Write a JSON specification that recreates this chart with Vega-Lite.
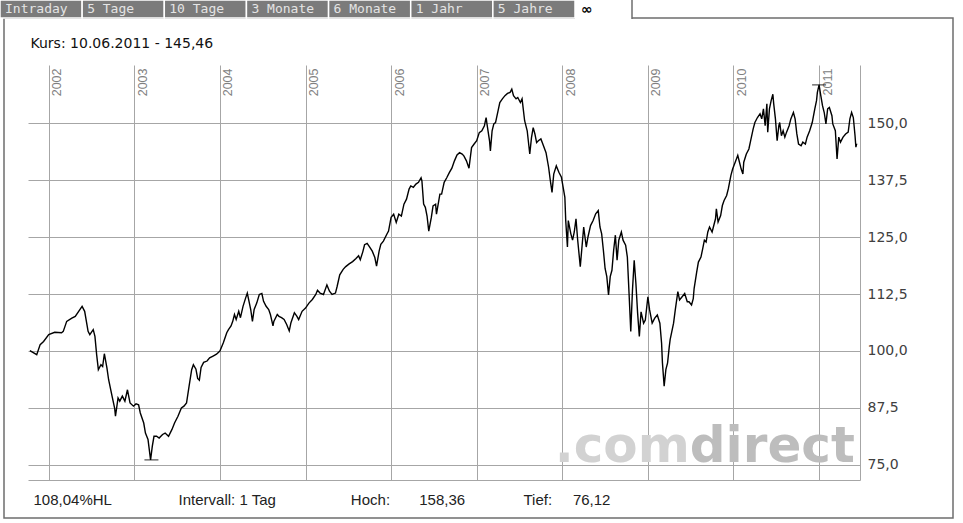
{
  "$schema": "https://vega.github.io/schema/vega-lite/v6.json",
  "width": 832,
  "height": 415,
  "autosize": {"type": "none"},
  "padding": {"left": 28, "top": 65, "right": 103, "bottom": 43},
  "background": "white",
  "config": {"view": {"stroke": null}},
  "resolve": {"scale": {"x": "independent", "y": "independent"}},
  "layer": [
    {
      "data": {"values": [{"part": "frame"}]},
      "mark": {"type": "rect", "fill": "transparent", "stroke": "#6e6e6e", "strokeWidth": 1.5},
      "encoding": {
        "x": {"datum": 0, "type": "quantitative", "scale": {"domain": [0, 1], "range": [-24, 925]}, "axis": null},
        "x2": {"datum": 1},
        "y": {"datum": 0, "type": "quantitative", "scale": {"domain": [0, 1], "range": [-47, 453]}, "axis": null},
        "y2": {"datum": 1}
      }
    },
    {
      "data": {"values": [{"tab": "Intraday"}, {"tab": "5 Tage"}, {"tab": "10 Tage"}, {"tab": "3 Monate"}, {"tab": "6 Monate"}, {"tab": "1 Jahr"}, {"tab": "5 Jahre"}]},
      "encoding": {
        "x": {"field": "tab", "type": "nominal", "sort": null, "scale": {"type": "band", "range": [-28, 547], "paddingInner": 0, "paddingOuter": 0}, "axis": null},
        "y": {"datum": 0, "type": "quantitative", "scale": {"domain": [0, 1], "range": [-65, -47]}, "axis": null}
      },
      "layer": [
        {"mark": {"type": "rect", "fill": "#7b7b7b", "stroke": "white", "strokeWidth": 1.5}, "encoding": {"y2": {"datum": 1}}},
        {"mark": {"type": "text", "font": "DejaVu Sans Mono", "fontSize": 13, "color": "#e4e4e4", "align": "left", "baseline": "middle", "dx": 5}, "encoding": {"text": {"field": "tab"}, "x": {"field": "tab", "type": "nominal", "bandPosition": 0}, "y": {"datum": 0.5, "type": "quantitative"}}}
      ]
    },
    {
      "data": {"values": [{"tab": "∞"}]},
      "encoding": {
        "x": {"field": "tab", "type": "nominal", "scale": {"type": "band", "range": [547, 604], "paddingInner": 0, "paddingOuter": 0}, "axis": null},
        "y": {"datum": 0, "type": "quantitative", "scale": {"domain": [0, 1], "range": [-65, -46]}, "axis": null}
      },
      "layer": [
        {"mark": {"type": "rect", "fill": "white"}, "encoding": {"y2": {"datum": 1}}},
        {"mark": {"type": "rule", "color": "#6e6e6e", "strokeWidth": 1.5}, "encoding": {"x": {"field": "tab", "type": "nominal", "bandPosition": 1}, "y2": {"datum": 1}}},
        {"mark": {"type": "text", "font": "DejaVu Sans", "fontWeight": "bold", "fontSize": 14, "align": "left", "baseline": "middle", "dx": 6, "color": "#000000"}, "encoding": {"text": {"field": "tab"}, "x": {"field": "tab", "type": "nominal", "bandPosition": 0}, "y": {"datum": 0.5, "type": "quantitative"}}}
      ]
    },
    {
      "layer": [
        {
          "data": {"values": [{"part": ".com"}]},
          "mark": {"type": "text", "align": "right", "baseline": "alphabetic", "font": "DejaVu Sans", "fontWeight": "bold", "fontSize": 50, "color": "#d2d2d2"},
          "encoding": {"text": {"field": "part"}, "x": {"datum": 2009.49, "type": "quantitative", "axis": null}, "y": {"datum": 75.66, "type": "quantitative", "axis": null}}
        },
        {
          "data": {"values": [{"part": "direct"}]},
          "mark": {"type": "text", "align": "left", "baseline": "alphabetic", "font": "DejaVu Sans", "fontWeight": "bold", "fontSize": 50, "color": "#bdbdbd"},
          "encoding": {"text": {"field": "part"}, "x": {"datum": 2009.49, "type": "quantitative", "axis": null}, "y": {"datum": 75.66, "type": "quantitative", "axis": null}}
        },
        {
          "data": {"values": [
            {"t": 2001.78, "v": 100.1}, {"t": 2001.86, "v": 99.2}, {"t": 2001.90, "v": 101.4}, {"t": 2001.94, "v": 102.1}, {"t": 2002.00, "v": 103.6}, {"t": 2002.07, "v": 104.1}, {"t": 2002.15, "v": 104.0}, {"t": 2002.17, "v": 104.3}, {"t": 2002.21, "v": 106.5}, {"t": 2002.27, "v": 107.2}, {"t": 2002.31, "v": 107.6}, {"t": 2002.35, "v": 108.7}, {"t": 2002.39, "v": 109.8}, {"t": 2002.42, "v": 108.7}, {"t": 2002.46, "v": 104.3}, {"t": 2002.48, "v": 103.6}, {"t": 2002.52, "v": 104.7}, {"t": 2002.54, "v": 103.2}, {"t": 2002.56, "v": 99.2}, {"t": 2002.58, "v": 95.9}, {"t": 2002.61, "v": 97.0}, {"t": 2002.63, "v": 96.6}, {"t": 2002.65, "v": 99.4}, {"t": 2002.68, "v": 96.3}, {"t": 2002.70, "v": 93.7}, {"t": 2002.74, "v": 90.1}, {"t": 2002.77, "v": 87.5}, {"t": 2002.78, "v": 85.7}, {"t": 2002.81, "v": 89.7}, {"t": 2002.83, "v": 89.0}, {"t": 2002.86, "v": 90.1}, {"t": 2002.89, "v": 89.0}, {"t": 2002.92, "v": 91.5}, {"t": 2002.95, "v": 88.6}, {"t": 2002.99, "v": 87.9}, {"t": 2003.02, "v": 88.4}, {"t": 2003.05, "v": 88.2}, {"t": 2003.07, "v": 86.4}, {"t": 2003.11, "v": 84.2}, {"t": 2003.13, "v": 82.0}, {"t": 2003.16, "v": 80.6}, {"t": 2003.19, "v": 76.12}, {"t": 2003.21, "v": 79.1}, {"t": 2003.23, "v": 81.3}, {"t": 2003.26, "v": 81.3}, {"t": 2003.29, "v": 80.9}, {"t": 2003.33, "v": 81.7}, {"t": 2003.36, "v": 82.0}, {"t": 2003.40, "v": 81.3}, {"t": 2003.44, "v": 82.8}, {"t": 2003.47, "v": 84.2}, {"t": 2003.51, "v": 85.7}, {"t": 2003.55, "v": 87.5}, {"t": 2003.58, "v": 87.9}, {"t": 2003.61, "v": 88.6}, {"t": 2003.64, "v": 92.3}, {"t": 2003.67, "v": 95.9}, {"t": 2003.69, "v": 97.0}, {"t": 2003.72, "v": 96.0}, {"t": 2003.74, "v": 94.0}, {"t": 2003.76, "v": 93.6}, {"t": 2003.78, "v": 96.4}, {"t": 2003.81, "v": 97.5}, {"t": 2003.85, "v": 97.8}, {"t": 2003.88, "v": 98.5}, {"t": 2003.92, "v": 98.9}, {"t": 2003.96, "v": 99.3}, {"t": 2004.00, "v": 100.0},
            {"t": 2004.04, "v": 101.8}, {"t": 2004.08, "v": 104.0}, {"t": 2004.10, "v": 104.7}, {"t": 2004.13, "v": 105.5}, {"t": 2004.15, "v": 106.5}, {"t": 2004.17, "v": 108.0}, {"t": 2004.19, "v": 106.9}, {"t": 2004.22, "v": 108.7}, {"t": 2004.24, "v": 107.3}, {"t": 2004.27, "v": 109.8}, {"t": 2004.30, "v": 111.6}, {"t": 2004.32, "v": 112.7}, {"t": 2004.34, "v": 110.9}, {"t": 2004.36, "v": 109.1}, {"t": 2004.38, "v": 106.5}, {"t": 2004.40, "v": 109.1}, {"t": 2004.43, "v": 110.5}, {"t": 2004.46, "v": 112.4}, {"t": 2004.49, "v": 112.6}, {"t": 2004.51, "v": 110.9}, {"t": 2004.54, "v": 109.8}, {"t": 2004.57, "v": 109.1}, {"t": 2004.59, "v": 108.0}, {"t": 2004.62, "v": 105.5}, {"t": 2004.63, "v": 106.5}, {"t": 2004.67, "v": 108.0}, {"t": 2004.69, "v": 107.6}, {"t": 2004.72, "v": 107.3}, {"t": 2004.75, "v": 106.9}, {"t": 2004.78, "v": 105.8}, {"t": 2004.81, "v": 104.4}, {"t": 2004.83, "v": 106.2}, {"t": 2004.87, "v": 108.4}, {"t": 2004.90, "v": 107.6}, {"t": 2004.92, "v": 106.9}, {"t": 2004.96, "v": 108.7}, {"t": 2005.00, "v": 109.4}, {"t": 2005.04, "v": 110.5}, {"t": 2005.08, "v": 111.3}, {"t": 2005.12, "v": 112.4}, {"t": 2005.14, "v": 113.3}, {"t": 2005.17, "v": 112.7}, {"t": 2005.21, "v": 112.4}, {"t": 2005.25, "v": 114.5}, {"t": 2005.28, "v": 113.1}, {"t": 2005.31, "v": 112.4}, {"t": 2005.35, "v": 112.7}, {"t": 2005.37, "v": 114.2}, {"t": 2005.40, "v": 116.7}, {"t": 2005.44, "v": 117.9}, {"t": 2005.47, "v": 118.5}, {"t": 2005.51, "v": 119.1}, {"t": 2005.55, "v": 119.6}, {"t": 2005.59, "v": 120.3}, {"t": 2005.62, "v": 120.9}, {"t": 2005.64, "v": 120.0}, {"t": 2005.67, "v": 121.8}, {"t": 2005.69, "v": 123.3}, {"t": 2005.72, "v": 123.6},
            {"t": 2005.75, "v": 122.8}, {"t": 2005.78, "v": 121.9}, {"t": 2005.81, "v": 120.5}, {"t": 2005.83, "v": 118.6}, {"t": 2005.86, "v": 121.9}, {"t": 2005.88, "v": 123.4}, {"t": 2005.91, "v": 124.1}, {"t": 2005.95, "v": 125.6}, {"t": 2005.97, "v": 126.3}, {"t": 2006.00, "v": 129.3}, {"t": 2006.03, "v": 130.0}, {"t": 2006.06, "v": 128.2}, {"t": 2006.09, "v": 130.0}, {"t": 2006.12, "v": 129.6}, {"t": 2006.15, "v": 132.2}, {"t": 2006.18, "v": 133.3}, {"t": 2006.21, "v": 135.5}, {"t": 2006.23, "v": 136.2}, {"t": 2006.26, "v": 135.9}, {"t": 2006.29, "v": 136.6}, {"t": 2006.32, "v": 137.0}, {"t": 2006.35, "v": 138.0}, {"t": 2006.36, "v": 137.3}, {"t": 2006.38, "v": 132.2}, {"t": 2006.40, "v": 131.5}, {"t": 2006.42, "v": 129.6}, {"t": 2006.44, "v": 126.3}, {"t": 2006.47, "v": 129.3}, {"t": 2006.49, "v": 131.8}, {"t": 2006.52, "v": 132.2}, {"t": 2006.53, "v": 130.0}, {"t": 2006.57, "v": 134.4}, {"t": 2006.59, "v": 134.4}, {"t": 2006.62, "v": 137.0}, {"t": 2006.65, "v": 138.0}, {"t": 2006.68, "v": 139.1}, {"t": 2006.71, "v": 140.1}, {"t": 2006.74, "v": 141.7}, {"t": 2006.77, "v": 143.0}, {"t": 2006.80, "v": 143.5}, {"t": 2006.83, "v": 143.2}, {"t": 2006.85, "v": 142.8}, {"t": 2006.88, "v": 141.7}, {"t": 2006.91, "v": 140.1}, {"t": 2006.94, "v": 144.6}, {"t": 2006.97, "v": 145.4}, {"t": 2007.00, "v": 146.1}, {"t": 2007.03, "v": 147.9}, {"t": 2007.06, "v": 148.3}, {"t": 2007.09, "v": 149.4}, {"t": 2007.11, "v": 151.2}, {"t": 2007.12, "v": 149.8}, {"t": 2007.15, "v": 146.1}, {"t": 2007.16, "v": 143.9}, {"t": 2007.18, "v": 148.3}, {"t": 2007.20, "v": 149.8}, {"t": 2007.22, "v": 150.1}, {"t": 2007.25, "v": 152.7}, {"t": 2007.27, "v": 154.5}, {"t": 2007.30, "v": 155.3}, {"t": 2007.33, "v": 156.0}, {"t": 2007.36, "v": 156.5}, {"t": 2007.39, "v": 156.7}, {"t": 2007.41, "v": 157.4}, {"t": 2007.43, "v": 156.0}, {"t": 2007.46, "v": 155.3}, {"t": 2007.48, "v": 155.6}, {"t": 2007.51, "v": 154.5}, {"t": 2007.53, "v": 155.3}, {"t": 2007.56, "v": 150.5}, {"t": 2007.59, "v": 148.3}, {"t": 2007.62, "v": 143.2}, {"t": 2007.64, "v": 146.8}, {"t": 2007.66, "v": 149.0}, {"t": 2007.68, "v": 147.6}, {"t": 2007.70, "v": 145.7}, {"t": 2007.72, "v": 146.1}, {"t": 2007.75, "v": 146.5}, {"t": 2007.78, "v": 145.0},
            {"t": 2007.81, "v": 143.5}, {"t": 2007.84, "v": 140.3}, {"t": 2007.86, "v": 137.4}, {"t": 2007.88, "v": 134.8}, {"t": 2007.90, "v": 138.8}, {"t": 2007.93, "v": 140.6}, {"t": 2007.96, "v": 139.2}, {"t": 2007.99, "v": 138.1}, {"t": 2008.01, "v": 135.9}, {"t": 2008.03, "v": 133.7}, {"t": 2008.04, "v": 128.6}, {"t": 2008.06, "v": 122.8}, {"t": 2008.07, "v": 128.6}, {"t": 2008.10, "v": 125.7}, {"t": 2008.12, "v": 124.3}, {"t": 2008.14, "v": 126.1}, {"t": 2008.16, "v": 129.0}, {"t": 2008.18, "v": 124.3}, {"t": 2008.21, "v": 118.5}, {"t": 2008.23, "v": 122.8}, {"t": 2008.25, "v": 127.2}, {"t": 2008.28, "v": 122.8}, {"t": 2008.30, "v": 125.0}, {"t": 2008.33, "v": 127.5}, {"t": 2008.36, "v": 128.6}, {"t": 2008.39, "v": 130.1}, {"t": 2008.42, "v": 130.8}, {"t": 2008.44, "v": 127.2}, {"t": 2008.46, "v": 125.7}, {"t": 2008.48, "v": 122.1}, {"t": 2008.50, "v": 118.1}, {"t": 2008.52, "v": 116.3}, {"t": 2008.54, "v": 112.3}, {"t": 2008.56, "v": 116.3}, {"t": 2008.58, "v": 117.7}, {"t": 2008.60, "v": 122.1}, {"t": 2008.62, "v": 125.4}, {"t": 2008.64, "v": 119.9}, {"t": 2008.66, "v": 124.3}, {"t": 2008.69, "v": 126.1}, {"t": 2008.71, "v": 124.3}, {"t": 2008.74, "v": 123.2}, {"t": 2008.76, "v": 120.6}, {"t": 2008.78, "v": 112.6}, {"t": 2008.80, "v": 104.3}, {"t": 2008.82, "v": 113.4}, {"t": 2008.84, "v": 119.9}, {"t": 2008.86, "v": 114.8}, {"t": 2008.88, "v": 108.3}, {"t": 2008.90, "v": 103.2}, {"t": 2008.92, "v": 108.6}, {"t": 2008.95, "v": 106.1}, {"t": 2008.97, "v": 106.8}, {"t": 2009.00, "v": 111.9}, {"t": 2009.02, "v": 109.0}, {"t": 2009.05, "v": 106.1}, {"t": 2009.08, "v": 107.2}, {"t": 2009.11, "v": 107.9}, {"t": 2009.14, "v": 106.1}, {"t": 2009.16, "v": 101.7}, {"t": 2009.17, "v": 97.4}, {"t": 2009.19, "v": 92.3}, {"t": 2009.21, "v": 95.9}, {"t": 2009.23, "v": 97.4}, {"t": 2009.25, "v": 101.0}, {"t": 2009.26, "v": 102.5}, {"t": 2009.30, "v": 106.1}, {"t": 2009.32, "v": 109.0}, {"t": 2009.35, "v": 113.0}, {"t": 2009.37, "v": 111.2}, {"t": 2009.40, "v": 111.9}, {"t": 2009.43, "v": 112.6}, {"t": 2009.46, "v": 110.8},
            {"t": 2009.48, "v": 110.8}, {"t": 2009.51, "v": 110.1}, {"t": 2009.53, "v": 111.5}, {"t": 2009.54, "v": 113.7}, {"t": 2009.57, "v": 117.3}, {"t": 2009.59, "v": 119.5}, {"t": 2009.62, "v": 120.6}, {"t": 2009.64, "v": 122.4}, {"t": 2009.66, "v": 124.3}, {"t": 2009.68, "v": 123.9}, {"t": 2009.70, "v": 126.1}, {"t": 2009.72, "v": 127.2}, {"t": 2009.75, "v": 126.1}, {"t": 2009.76, "v": 126.8}, {"t": 2009.79, "v": 129.0}, {"t": 2009.80, "v": 131.2}, {"t": 2009.82, "v": 128.3}, {"t": 2009.85, "v": 129.7}, {"t": 2009.87, "v": 131.9}, {"t": 2009.89, "v": 133.0}, {"t": 2009.92, "v": 134.1}, {"t": 2009.94, "v": 135.6}, {"t": 2009.97, "v": 138.5}, {"t": 2009.99, "v": 139.9}, {"t": 2010.02, "v": 141.4}, {"t": 2010.05, "v": 142.9}, {"t": 2010.07, "v": 141.4}, {"t": 2010.09, "v": 139.9}, {"t": 2010.11, "v": 138.8}, {"t": 2010.12, "v": 141.4}, {"t": 2010.15, "v": 143.2}, {"t": 2010.18, "v": 144.3}, {"t": 2010.20, "v": 146.1}, {"t": 2010.23, "v": 148.7}, {"t": 2010.25, "v": 150.1}, {"t": 2010.28, "v": 151.2}, {"t": 2010.31, "v": 152.0}, {"t": 2010.33, "v": 150.9}, {"t": 2010.35, "v": 153.1}, {"t": 2010.37, "v": 149.4}, {"t": 2010.39, "v": 154.2}, {"t": 2010.40, "v": 148.0}, {"t": 2010.42, "v": 153.1}, {"t": 2010.44, "v": 154.9}, {"t": 2010.46, "v": 156.3}, {"t": 2010.47, "v": 154.2}, {"t": 2010.49, "v": 150.9}, {"t": 2010.51, "v": 146.1}, {"t": 2010.53, "v": 149.4}, {"t": 2010.54, "v": 150.1}, {"t": 2010.56, "v": 147.2}, {"t": 2010.58, "v": 148.3}, {"t": 2010.60, "v": 146.9}, {"t": 2010.62, "v": 148.0}, {"t": 2010.65, "v": 149.4}, {"t": 2010.67, "v": 150.9}, {"t": 2010.70, "v": 152.3}, {"t": 2010.72, "v": 150.9}, {"t": 2010.74, "v": 147.6}, {"t": 2010.76, "v": 145.4}, {"t": 2010.79, "v": 145.0}, {"t": 2010.81, "v": 145.8}, {"t": 2010.84, "v": 145.4}, {"t": 2010.86, "v": 146.9}, {"t": 2010.89, "v": 148.3}, {"t": 2010.92, "v": 150.1}, {"t": 2010.95, "v": 153.1}, {"t": 2010.97, "v": 154.9}, {"t": 2010.98, "v": 156.7}, {"t": 2011.00, "v": 158.36}, {"t": 2011.02, "v": 156.0}, {"t": 2011.04, "v": 153.8}, {"t": 2011.06, "v": 152.3}, {"t": 2011.08, "v": 149.8}, {"t": 2011.10, "v": 153.1}, {"t": 2011.12, "v": 153.4}, {"t": 2011.15, "v": 151.6}, {"t": 2011.16, "v": 149.8}, {"t": 2011.19, "v": 148.3}, {"t": 2011.21, "v": 142.1}, {"t": 2011.23, "v": 146.9}, {"t": 2011.25, "v": 145.8}, {"t": 2011.28, "v": 146.9}, {"t": 2011.31, "v": 147.6}, {"t": 2011.34, "v": 148.0}, {"t": 2011.36, "v": 150.9}, {"t": 2011.38, "v": 152.3}, {"t": 2011.40, "v": 151.2}, {"t": 2011.42, "v": 147.2}, {"t": 2011.43, "v": 144.7}, {"t": 2011.44, "v": 145.46}
          ]},
          "mark": {"type": "line", "color": "#000000", "strokeWidth": 1.4},
          "encoding": {
            "x": {"field": "t", "type": "quantitative", "scale": {"domain": [2001.758, 2011.478], "nice": false, "zero": false},
              "axis": {"orient": "top", "values": [2002, 2003, 2004, 2005, 2006, 2007, 2008, 2009, 2010, 2011], "format": "d", "grid": true, "gridColor": "#a6a6a6", "gridWidth": 1, "ticks": false, "domain": false, "labelAngle": 270, "labelAlign": "right", "labelBaseline": "top", "labelPadding": -3, "labelOffset": 2, "labelColor": "#808080", "labelFont": "Liberation Sans", "labelFontSize": 12.5, "labelFlush": false, "labelOverlap": false, "labelBound": false,
                "title": "Kurs: 10.06.2011 - 145,46", "titleX": 2, "titleY": -18, "titleAlign": "left", "titleAnchor": "start", "titleAngle": 0, "titleBaseline": "alphabetic", "titleFont": "DejaVu Sans", "titleFontSize": 14, "titleFontWeight": "normal", "titleColor": "#111111"}},
            "y": {"field": "v", "type": "quantitative", "scale": {"domain": [71.71, 162.72], "nice": false, "zero": false},
              "axis": {"orient": "right", "values": [75, 87.5, 100, 112.5, 125, 137.5, 150], "labelExpr": "replace(format(datum.value, '.1f'), '.', ',')", "grid": true, "gridColor": "#a6a6a6", "domain": true, "domainColor": "#a6a6a6", "ticks": false, "labelPadding": 7, "labelColor": "#404040", "labelFont": "DejaVu Sans", "labelFontSize": 14, "labelFlush": false, "title": null}}
          }
        },
        {
          "data": {"values": [{"t": 2003.2, "v": 76.12, "mark": "Tief"}, {"t": 2011.0, "v": 158.36, "mark": "Hoch"}]},
          "mark": {"type": "tick", "orient": "horizontal", "color": "#000000", "size": 14, "thickness": 1.2},
          "encoding": {
            "x": {"field": "t", "type": "quantitative",
              "axis": {"orient": "bottom", "domain": true, "domainColor": "#a6a6a6", "labels": false, "ticks": false, "grid": false,
                "title": "108,04%HL\u00a0\u00a0\u00a0\u00a0\u00a0\u00a0\u00a0\u00a0\u00a0\u00a0\u00a0\u00a0\u00a0\u00a0\u00a0\u00a0Intervall: 1 Tag\u00a0\u00a0\u00a0\u00a0\u00a0\u00a0\u00a0\u00a0\u00a0\u00a0\u00a0\u00a0\u00a0\u00a0\u00a0\u00a0\u00a0\u00a0Hoch:\u00a0\u00a0\u00a0\u00a0\u00a0\u00a0\u00a0158,36\u00a0\u00a0\u00a0\u00a0\u00a0\u00a0\u00a0\u00a0\u00a0\u00a0\u00a0\u00a0\u00a0\u00a0Tief:\u00a0\u00a0\u00a0\u00a0\u00a076,12",
                "titleX": 5, "titleY": 24, "titleAlign": "left", "titleAnchor": "start", "titleBaseline": "alphabetic", "titleFont": "Liberation Sans", "titleFontSize": 15, "titleFontWeight": "normal", "titleColor": "#222222"}},
            "y": {"field": "v", "type": "quantitative", "axis": null}
          }
        }
      ],
      "resolve": {"axis": {"x": "independent", "y": "independent"}}
    }
  ]
}
